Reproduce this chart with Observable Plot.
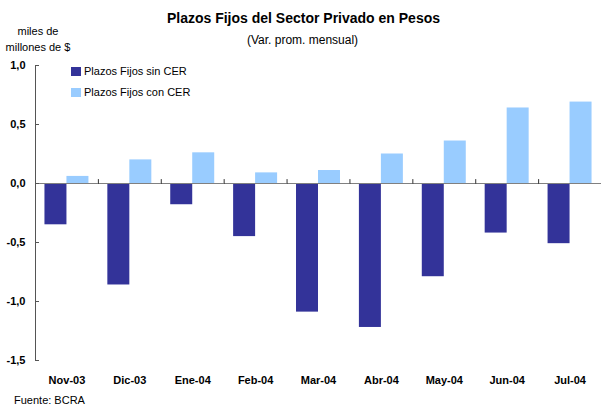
<!DOCTYPE html>
<html>
<head>
<meta charset="utf-8">
<script src="https://cdn.jsdelivr.net/npm/d3@7"></script>
<script src="https://cdn.jsdelivr.net/npm/@observablehq/plot@0.6"></script>
<style>
  html, body { margin: 0; padding: 0; background: #fff; }
  #wrap { position: relative; width: 601px; height: 408px; font-family: "Liberation Sans", Arial, sans-serif; color: #000; }
  #wrap svg { position: absolute; left: 0; top: 0; }
  .t { position: absolute; white-space: nowrap; line-height: 1; }
  .title { left: 0; width: 601px; top: 11px; text-align: center; font-size: 14px; font-weight: bold; padding-left: 6px; box-sizing: border-box; }
  .sub { left: 0; width: 601px; top: 34px; text-align: center; font-size: 12px; padding-left: 4px; box-sizing: border-box; }
  .unit { left: 0; width: 76px; text-align: center; font-size: 11px; }
  .leg { left: 71px; font-size: 11px; display: flex; align-items: center; }
  .leg span.sw { display: inline-block; width: 10px; height: 9px; margin-right: 3px; }
  .src { left: 14px; top: 395px; font-size: 11px; }
</style>
</head>
<body>
<div id="wrap"></div>
<script>
const months = ["Nov-03","Dic-03","Ene-04","Feb-04","Mar-04","Abr-04","May-04","Jun-04","Jul-04"];
const sinCER = [-0.35,-0.86,-0.18,-0.45,-1.09,-1.22,-0.79,-0.42,-0.51];
const conCER = [0.06,0.20,0.26,0.09,0.11,0.25,0.36,0.64,0.69];
const seriesNames = ["Plazos Fijos sin CER","Plazos Fijos con CER"];
const seriesColors = ["#333399","#99CCFF"];
const yTicks = [-1.5,-1.0,-0.5,0,0.5,1.0];
const titleText = "Plazos Fijos del Sector Privado en Pesos";
const subtitleText = "(Var. prom. mensual)";
const unitLines = ["miles de","millones de $"];
const sourceText = "Fuente: BCRA";

const data = months.flatMap((m, i) => [
  {month: m, series: seriesNames[0], value: sinCER[i]},
  {month: m, series: seriesNames[1], value: conCER[i]}
]);
const boundaries = months.slice(0, -1).map(m => ({month: m, value: 0}));

const tickUp = {draw(ctx, l) { ctx.moveTo(0, 0); ctx.lineTo(0, -l); }};
const fmt = d => d.toFixed(1).replace(".", ",");

const chart = Plot.plot({
  width: 601, height: 408,
  marginLeft: 35, marginRight: 0, marginTop: 65, marginBottom: 48,
  style: {fontFamily: "'Liberation Sans', Arial, sans-serif", fontSize: "11px", color: "#000", background: "transparent", overflow: "visible"},
  fx: {domain: months, padding: 0, round: false, label: null, axis: null},
  x: {domain: seriesNames, paddingInner: 0, paddingOuter: 0.43, round: false, axis: null},
  y: {domain: [-1.5, 1.0], axis: null},
  color: {domain: seriesNames, range: seriesColors},
  marks: [
    Plot.barY(data, {fx: "month", x: "series", y: "value", fill: "series"}),
    Plot.ruleY([0], {stroke: "#808080", strokeWidth: 1}),
    Plot.vector(boundaries, {fx: "month", y: "value", frameAnchor: "right", length: 4, rotate: 0, anchor: "start", shape: tickUp, stroke: "#333", strokeWidth: 1}),
    Plot.frame({anchor: "left", facetAnchor: "left", stroke: "#555"}),
    Plot.axisY({ticks: yTicks, tickFormat: fmt, tickSize: -4, tickPadding: 14, fontWeight: "bold", fontSize: 11, stroke: "#555", label: null}),
    Plot.axisFx({anchor: "bottom", tickSize: 0, tickPadding: 16, fontWeight: "bold", fontSize: 11, label: null})
  ]
});

const wrap = document.getElementById("wrap");
wrap.appendChild(chart);

function addText(cls, text, top) {
  const d = document.createElement("div");
  d.className = "t " + cls;
  d.textContent = text;
  if (top != null) d.style.top = top + "px";
  wrap.appendChild(d);
  return d;
}
addText("title", titleText);
addText("sub", subtitleText);
unitLines.forEach((t, i) => addText("unit", t, 26 + i * 16));
seriesNames.forEach((s, i) => {
  const d = document.createElement("div");
  d.className = "t leg";
  d.style.top = (66 + i * 21) + "px";
  const sw = document.createElement("span");
  sw.className = "sw";
  sw.style.background = seriesColors[i];
  d.appendChild(sw);
  d.appendChild(document.createTextNode(s));
  wrap.appendChild(d);
});
addText("src", sourceText);
</script>
</body>
</html>
